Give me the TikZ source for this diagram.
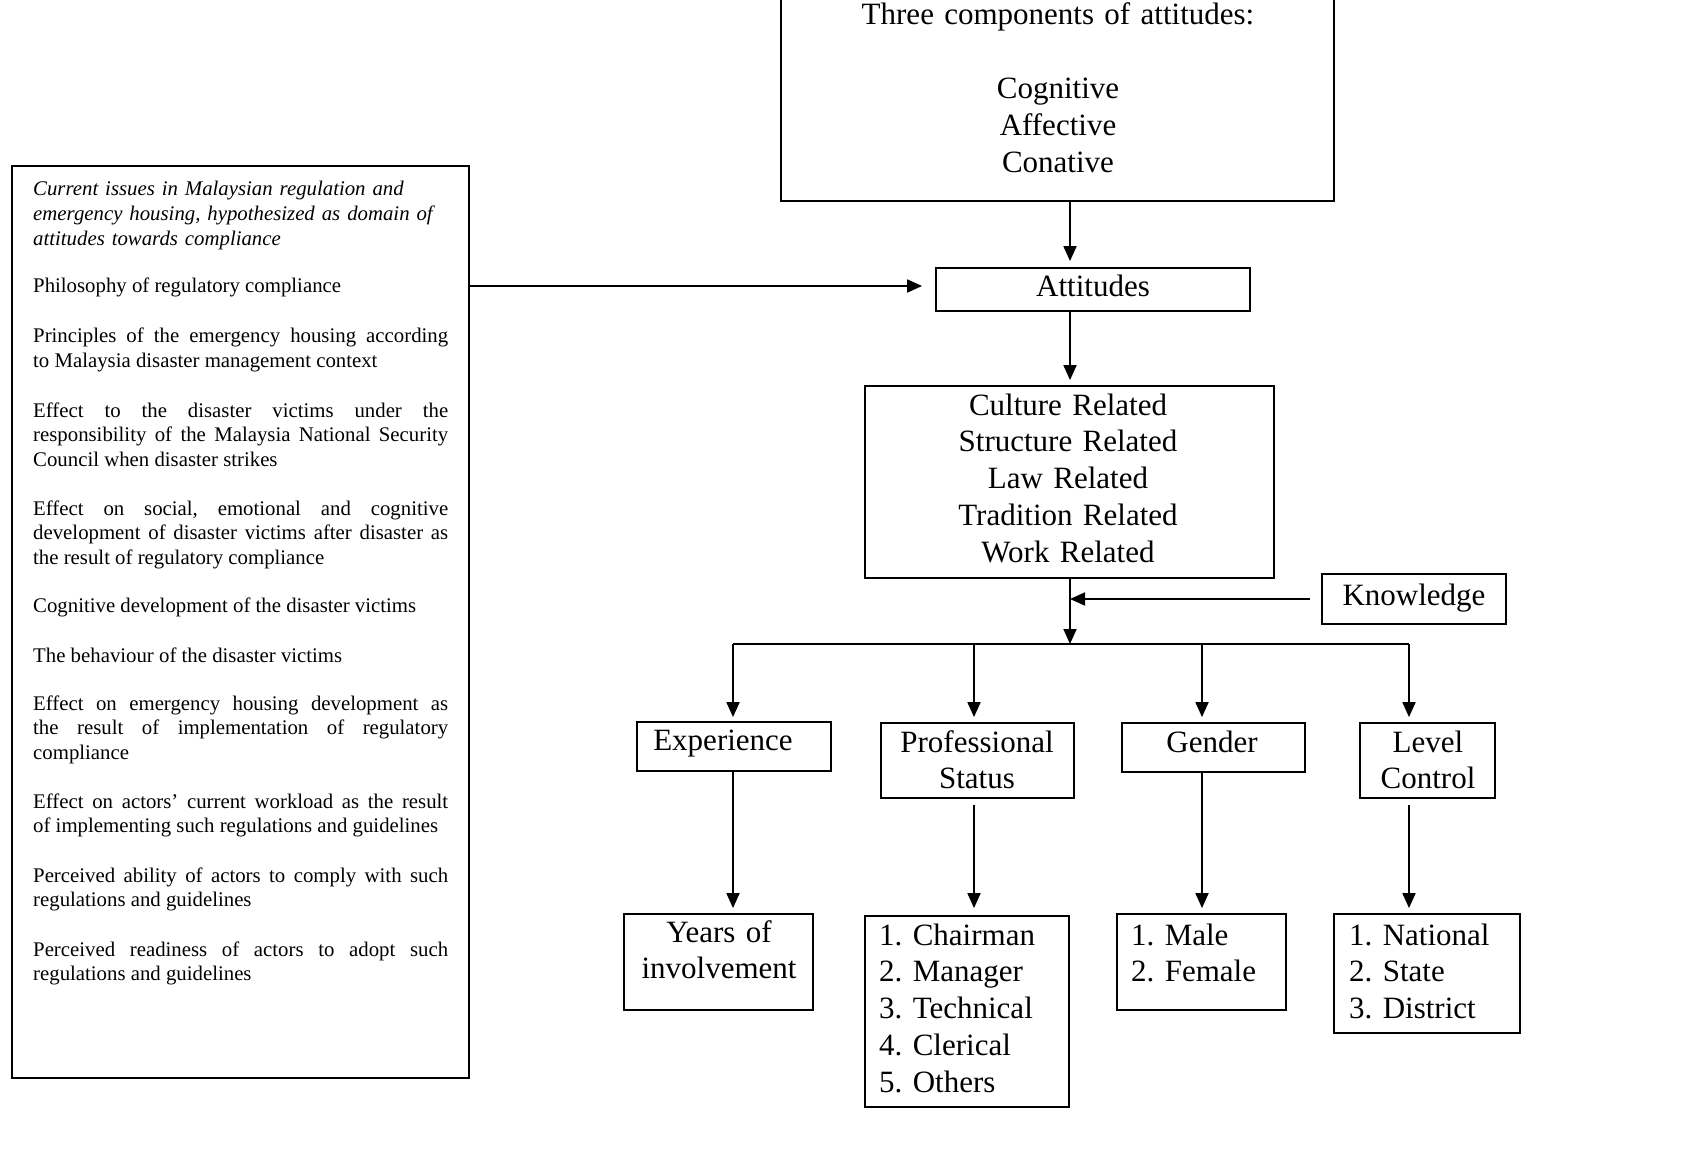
\documentclass[tikz,border=0pt]{standalone}
\usepackage{fontspec}
\setmainfont{Liberation Serif}
\usetikzlibrary{arrows.meta,fit}

\tikzset{
  box/.style={draw, line width=1.8pt, inner sep=0pt},
  link/.style={line width=1.8pt},
  arr/.style={link, -{Triangle[length=15pt,width=13pt]}},
  big/.style={inner sep=0pt, font=\fontsize{31}{36.8}\selectfont},
  bigc/.style={big, anchor=base, text width=420pt, align=center},
  bigl/.style={big, anchor=base west, text width=190pt, align=left},
  para/.style={inner sep=0pt, anchor=base west, text width=415pt, align=justify,
    font=\fontsize{20.8}{24.6}\selectfont},
}
\hyphenpenalty=10000
\exhyphenpenalty=10000
\hbadness=10000
\frenchspacing

\begin{document}
\begin{tikzpicture}[x=1pt,y=-1pt]
\clip (0,0) rectangle (1687,1174);

% ---- boxes ----
\node[box, fit={(12,166) (469,1078)}]   (issues) {};
\node[box, fit={(781,-10) (1334,201)}]  (comp) {};
\node[box, fit={(936,268) (1250,311)}]  (att) {};
\node[box, fit={(865,386) (1274,578)}]  (rel) {};
\node[box, fit={(1322,574) (1506,624)}] (know) {};
\node[box, fit={(637,722) (831,771)}]   (exp) {};
\node[box, fit={(881,723) (1074,798)}]  (prof) {};
\node[box, fit={(1122,723) (1305,772)}] (gen) {};
\node[box, fit={(1360,723) (1495,798)}] (lvl) {};
\node[box, fit={(624,914) (813,1010)}]  (years) {};
\node[box, fit={(865,916) (1069,1107)}] (chair) {};
\node[box, fit={(1117,914) (1286,1010)}] (male) {};
\node[box, fit={(1334,914) (1520,1033)}] (nat) {};

% ---- left column: issues ----
\node[para, align=left] (p0) at (33,196) {\itshape Current issues in Malaysian regulation and\\
  emergency housing, hypothesized as domain of\\ attitudes towards compliance};
\node[para] (p1) at (33,293) {Philosophy of regulatory compliance};
\node[para] (p2) at (33,343) {Principles of the emergency housing according\linebreak
  to Malaysia disaster management context};
\node[para] (p3) at (33,417) {Effect to the disaster victims under the\linebreak
  responsibility of the Malaysia National Security\linebreak Council when disaster strikes};
\node[para] (p4) at (33,515) {Effect on social, emotional and cognitive\linebreak
  development of disaster victims after disaster as\linebreak the result of regulatory compliance};
\node[para] (p5) at (33,612) {Cognitive development of the disaster victims};
\node[para] (p6) at (33,662) {The behaviour of the disaster victims};
\node[para] (p7) at (33,710) {Effect on emergency housing development as\linebreak
  the result of implementation of regulatory\linebreak compliance};
\node[para] (p8) at (33,808) {Effect on actors’ current workload as the result\linebreak
  of implementing such regulations and guidelines};
\node[para] (p9) at (33,882) {Perceived ability of actors to comply with such\linebreak
  regulations and guidelines};
\node[para] (p10) at (33,956) {Perceived readiness of actors to adopt such\linebreak
  regulations and guidelines};

% ---- right column texts ----
\node[bigc] (tcomp) at (1058,25) {Three components of attitudes:\\[36.8pt]
  Cognitive\\Affective\\Conative};
\node[bigc] (tatt) at (1093,297) {Attitudes};
\node[bigc] (trel) at (1068,415) {Culture Related\\Structure Related\\Law Related\\
  Tradition Related\\Work Related};
\node[bigc] (tknow) at (1414,605) {Knowledge};
\node[bigc] (texp) at (723,750) {Experience};
\node[bigc] (tprof) at (977,752) {Professional\\Status};
\node[bigc] (tgen) at (1212,752) {Gender};
\node[bigc] (tlvl) at (1428,752) {Level\\Control};
\node[bigc] (tyears) at (719,942) {Years of\\involvement};
\node[bigl] (tchair) at (879,945) {1. Chairman\\2. Manager\\3. Technical\\4. Clerical\\5. Others};
\node[bigl] (tmale) at (1131,945) {1. Male\\2. Female};
\node[bigl] (tnat) at (1349,945) {1. National\\2. State\\3. District};

% ---- connectors ----
\coordinate (trunk) at (1070,0);
\coordinate (feed) at (0,286);
\coordinate (split) at (1070,644);
\coordinate (c1) at (733,644);
\coordinate (c2) at (974,644);
\coordinate (c3) at (1202,644);
\coordinate (c4) at (1409,644);

\draw[arr, shorten >=6pt] (comp.south -| trunk) -- (att.north -| trunk);
\draw[arr, shorten >=13pt] (issues.east |- feed) -- (att.west |- feed);
\draw[arr, shorten >=5pt] (att.south -| trunk) -- (rel.north -| trunk);
\draw[arr] (rel.south -| trunk) -- (split);
\draw[arr, shorten <=11pt] (know.west) -- (know.west -| trunk);

\draw[link] (c1) -- (c4);
\draw[arr, shorten >=4pt] (c1) -- (c1 |- exp.north);
\draw[arr, shorten >=5pt] (c2) -- (c2 |- prof.north);
\draw[arr, shorten >=5pt] (c3) -- (c3 |- gen.north);
\draw[arr, shorten >=5pt] (c4) -- (c4 |- lvl.north);

\draw[arr, shorten >=5pt] (exp.south -| c1) -- (years.north -| c1);
\draw[arr, shorten <=6pt, shorten >=7pt] (prof.south -| c2) -- (chair.north -| c2);
\draw[arr, shorten >=5pt] (gen.south -| c3) -- (male.north -| c3);
\draw[arr, shorten <=6pt, shorten >=5pt] (lvl.south -| c4) -- (nat.north -| c4);
\end{tikzpicture}
\end{document}
